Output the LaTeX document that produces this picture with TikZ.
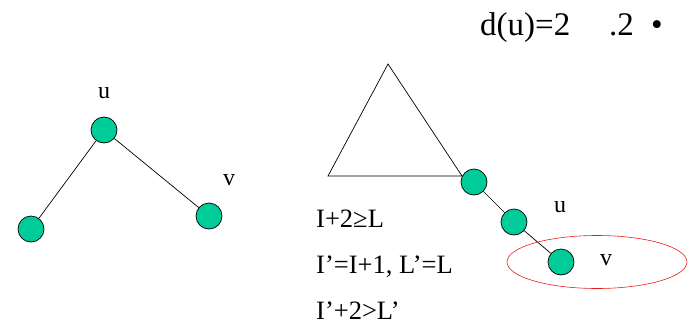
\documentclass[tikz,border=0pt]{standalone}
\usepackage{fontspec}
\setmainfont{Liberation Serif}
\usetikzlibrary{shapes.geometric}
\definecolor{nodegreen}{RGB}{0,204,153}
\definecolor{ellred}{RGB}{230,30,30}
\begin{document}
\begin{tikzpicture}[x=1pt,y=-1pt,
  vert/.style={circle,draw=black,line width=0.7pt,fill=nodegreen,minimum size=26pt,inner sep=0pt},
  edge/.style={draw=black,line width=0.7pt},
  lbl/.style={font=\fontsize{24}{28}\selectfont,inner sep=0pt},
  toptxt/.style={font=\fontsize{33}{38}\selectfont,inner sep=0pt,anchor=base west},
  txt/.style={font=\fontsize{26.5}{30}\selectfont,inner sep=0pt,anchor=base west}]
\useasboundingbox (0,0) rectangle (694,327);
% top text
\node[toptxt] (t1) at (480,35) {d(u)=2};
\node[toptxt] (t2) at (609,35) {.2};
\node[toptxt] (t3) at (651,35) {•};
% left graph
\node[vert] (lu) at (104,130) {};
\node[vert] (la) at (31,229) {};
\node[vert] (lv) at (209,216) {};
\draw[edge] (lu) -- (la);
\draw[edge] (lu) -- (lv);
\node[lbl] (lul) at (104,93) {u};
\node[lbl] (lvl) at (229,180) {v};
% right graph
\coordinate (apex) at (388,64);
\coordinate (bl) at (328,176);
\node[vert] (n1) at (474,182) {};
\node[vert] (n2) at (514,222) {};
\node[vert] (n3) at (561,262) {};
\coordinate (br) at (462,176);
\draw[edge] (bl) -- (apex) -- (br) -- cycle;
\draw[edge] (n1) -- (n2);
\draw[edge] (n2) -- (n3);
\node[lbl] (rul) at (560,207) {u};
\node[lbl] (rvl) at (606,260) {v};
\node[draw=ellred,line width=0.6pt,ellipse,minimum width=180pt,minimum height=53pt,inner sep=0pt] (ell) at (597,262) {};
% text lines
\node[txt] (l1) at (316,227) {I+2≥L};
\node[txt] (l2) at (316,273) {I’=I+1, L’=L};
\node[txt] (l3) at (316,319) {I’+2>L’};
\end{tikzpicture}
\end{document}
